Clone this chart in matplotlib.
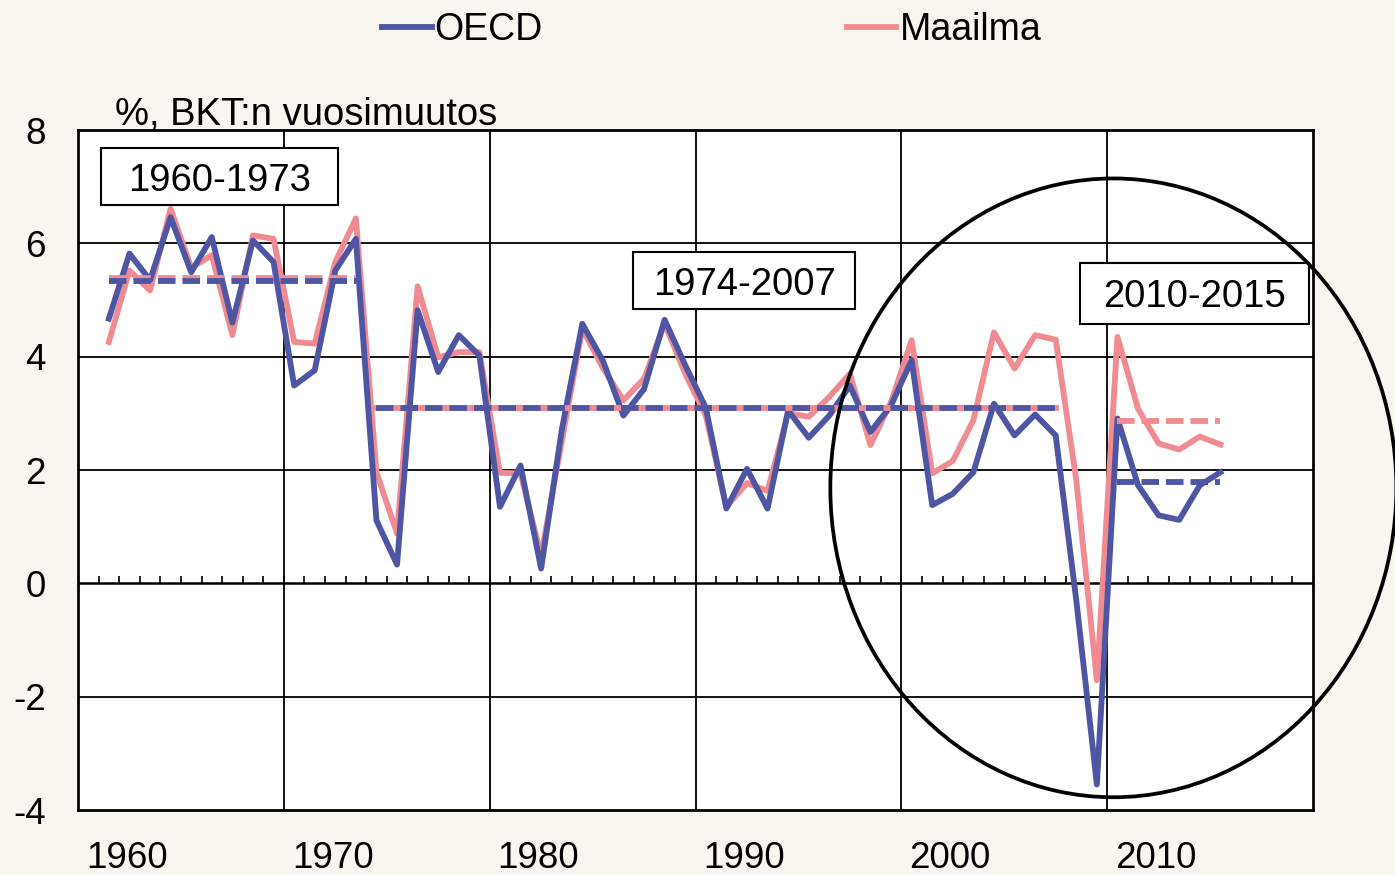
import numpy as np
import matplotlib
matplotlib.use("Agg")
import matplotlib.pyplot as plt
from matplotlib.patches import Ellipse, Rectangle

plt.rcParams['font.family'] = ['Liberation Sans', 'DejaVu Sans']

# annual GDP growth, %
years = list(range(1961, 2016))
oecd = [4.67, 5.82, 5.35, 6.46, 5.49, 6.11, 4.6, 6.05, 5.67, 3.49, 3.76, 5.52, 6.08,
        1.11, 0.33, 4.82, 3.73, 4.38, 4.02, 1.35, 2.08, 0.26, 2.7, 4.58, 3.93, 2.96,
        3.43, 4.65, 3.85,
        3.1, 1.32, 2.02, 1.32, 3.05, 2.57, 2.96, 3.49, 2.67, 3.14, 3.94, 1.38, 1.58,
        1.96, 3.17, 2.61, 2.98, 2.61,
        -0.3, -3.55, 2.91, 1.73, 1.2, 1.12, 1.73, 1.96]
world = [4.26, 5.52, 5.17, 6.61, 5.57, 5.79, 4.38, 6.14, 6.08, 4.26, 4.23, 5.67, 6.44,
         1.96, 0.88, 5.24, 3.99, 4.08, 4.08, 1.95, 1.94, 0.49, 2.5, 4.49, 3.8, 3.23,
         3.61, 4.58, 3.7,
         2.96, 1.35, 1.77, 1.63, 3.0, 2.94, 3.29, 3.7, 2.44, 3.2, 4.29, 1.94, 2.16,
         2.88, 4.43, 3.79, 4.38, 4.3,
         1.82, -1.71, 4.35, 3.08, 2.47, 2.36, 2.59, 2.45]

# period averages (dashed lines)
period_labels = ['1960-1973', '1974-2007', '2010-2015']
period_start = [1961, 1974, 2010]
period_end = [1973, 2007, 2015]
oecd_avg = [5.33, 3.1, 1.79]
world_avg = [5.38, 3.1, 2.86]

decades = [1960, 1970, 1980, 1990, 2000, 2010]

BLUE = '#4E55A3'
PINK = '#F08C91'
BG = '#F9F5EF'
FS = 26.5
LW = 4.2

fig = plt.figure(figsize=(13.95, 8.75), dpi=100, facecolor=BG)
ax = fig.add_axes([78 / 1395, 1 - 810 / 875, 1235 / 1395, 680 / 875])
ax.set_facecolor('white')

ax.set_xlim(1959.5, 2019.5)
ax.set_ylim(-4, 8)

# grid
for x in range(1970, 2011, 10):
    ax.axvline(x - 0.5, color='black', lw=1.3, zorder=1)
for y in [-2, 2, 4, 6]:
    ax.axhline(y, color='black', lw=1.3, zorder=1)
ax.axhline(0, color='black', lw=1.8, zorder=1)
ax.vlines(np.arange(1960.5, 2019, 1), 0, 0.13, color='black', lw=1.2, zorder=1)

for s in ax.spines.values():
    s.set_linewidth(2)
    s.set_color('black')

ax.set_yticks(range(-4, 9, 2))
ax.set_yticklabels([str(v) for v in range(-4, 9, 2)], fontsize=FS)
ax.set_xticks([d + 1.87 for d in decades])
ax.set_xticklabels([str(d) for d in decades], fontsize=FS)
ax.tick_params(axis='y', length=0, pad=23)
ax.tick_params(axis='x', length=0, pad=22)

# series
ax.plot(years, oecd, color=BLUE, lw=LW, zorder=4, label='OECD')
ax.plot(years, world, color=PINK, lw=LW, zorder=3, label='Maailma')

# averages; where both lines coincide the pink shows through the blue gaps
for i in range(len(period_labels)):
    xs = [period_start[i], period_end[i]]
    same = abs(oecd_avg[i] - world_avg[i]) < 0.01
    ax.plot(xs, [world_avg[i]] * 2, color=PINK, lw=LW,
            ls='-' if same else (0, (3.0, 1.2)), dash_capstyle='butt', zorder=5)
    ax.plot(xs, [oecd_avg[i]] * 2, color=BLUE, lw=LW, ls=(0, (3.0, 1.2)),
            dash_capstyle='butt', zorder=6)

# period boxes
boxes = [(1960.62, 6.67, 11.51, 1.01), (1986.47, 4.84, 10.79, 1.0),
         (2008.19, 4.57, 11.12, 1.09)]
for lab, (bx, by, bw, bh) in zip(period_labels, boxes):
    ax.add_patch(Rectangle((bx, by), bw, bh, facecolor='white', edgecolor='black',
                           lw=1.5, zorder=7, clip_on=False))
    ax.text(bx + bw / 2, by + bh / 2, lab, fontsize=27.5, ha='center',
            va='center_baseline', zorder=8, clip_on=False)

# circle highlighting recent years
ax.add_patch(Ellipse((2009.8, 1.685), 27.5, 10.92, fill=False, edgecolor='black',
                     lw=2.7, zorder=9, clip_on=False))

ax.text(0.03, 1.008, '%, BKT:n vuosimuutos', transform=ax.transAxes, fontsize=27.5,
        ha='left', va='baseline')

handles, labels = ax.get_legend_handles_labels()
fig.legend(handles, labels, loc='center', bbox_to_anchor=(0.51, 0.966), ncol=2,
           frameon=False, fontsize=27, handlelength=1.33, handletextpad=0.08,
           columnspacing=8.1, borderaxespad=0)

fig.savefig('out.png', dpi=100, facecolor=BG)
